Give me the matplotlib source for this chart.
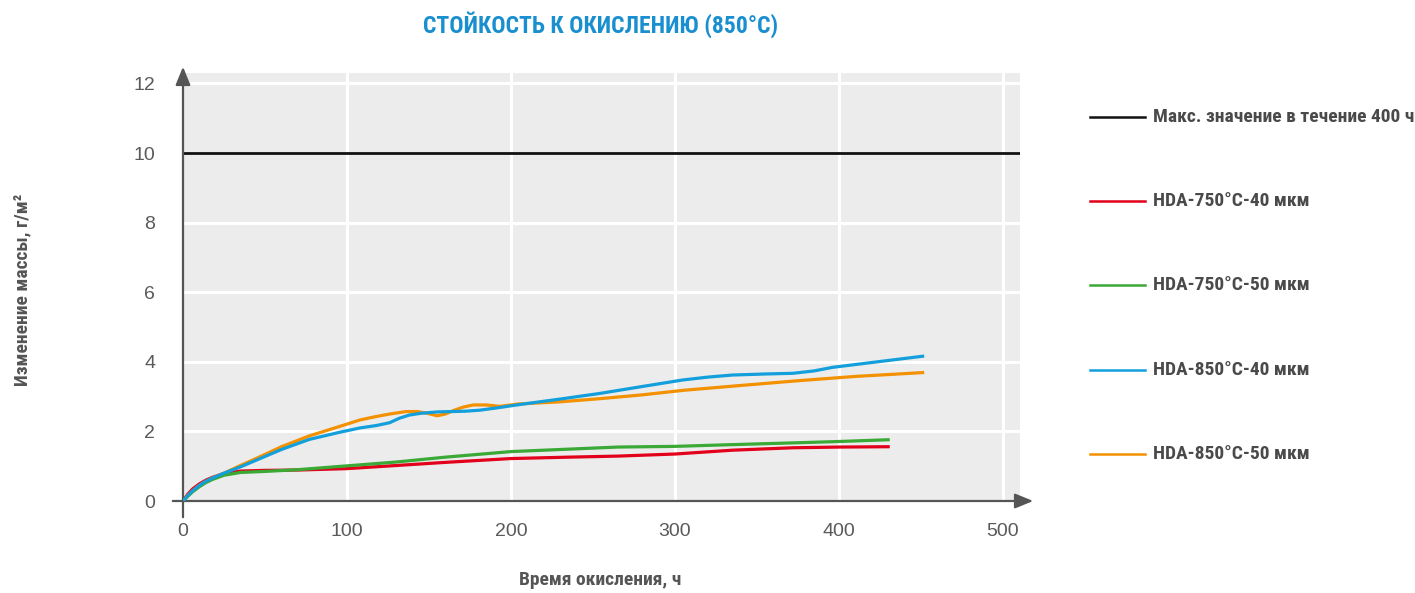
import numpy as np
import matplotlib.pyplot as plt
from matplotlib import font_manager as fm

# values
x_red = [0, 3, 6, 10, 14, 18, 25, 35, 50, 70, 100, 130, 160, 200, 235, 265, 300, 335, 372, 400, 430]
y_red = [0, 0.2, 0.35, 0.49, 0.6, 0.68, 0.79, 0.86, 0.88, 0.89, 0.93, 1.02, 1.11, 1.22, 1.26, 1.29, 1.35, 1.46, 1.53, 1.55, 1.56]

x_green = [0, 3, 6, 10, 14, 18, 25, 35, 50, 70, 100, 130, 160, 200, 235, 265, 300, 335, 372, 400, 430]
y_green = [0, 0.14, 0.27, 0.41, 0.53, 0.62, 0.74, 0.82, 0.85, 0.9, 1.01, 1.12, 1.26, 1.42, 1.49, 1.55, 1.57, 1.62, 1.67, 1.71, 1.76]

x_blue = [0, 3, 6, 10, 14, 18, 25, 35, 45, 60, 77, 96, 108, 118, 126, 132, 138, 145, 155, 163, 172, 181, 192, 205,
          230, 254, 280, 305, 320, 335, 355, 372, 385, 396, 420, 451]
y_blue = [0, 0.16, 0.3, 0.45, 0.57, 0.66, 0.8, 0.98, 1.18, 1.48, 1.77, 1.98, 2.1, 2.17, 2.25, 2.38, 2.47, 2.52, 2.56, 2.57, 2.58, 2.61, 2.68, 2.77,
          2.93, 3.09, 3.29, 3.48, 3.56, 3.62, 3.65, 3.67, 3.74, 3.84, 3.98, 4.16]

x_orange = [0, 3, 6, 10, 14, 18, 25, 35, 45, 60, 77, 96, 108, 118, 126, 136, 143, 149, 155, 160, 165, 171, 177, 185, 193, 205,
            230, 254, 280, 305, 340, 376, 410, 451]
y_orange = [0, 0.16, 0.3, 0.45, 0.57, 0.66, 0.8, 1.02, 1.23, 1.56, 1.87, 2.15, 2.33, 2.43, 2.5, 2.57, 2.57, 2.52, 2.45, 2.5, 2.6, 2.7, 2.76, 2.76, 2.72, 2.79,
            2.85, 2.94, 3.05, 3.18, 3.32, 3.46, 3.58, 3.69]

limit = 10
labels = ["Макс. значение в течение 400 ч", "HDA-750°C-40 мкм", "HDA-750°C-50 мкм",
          "HDA-850°C-40 мкм", "HDA-850°C-50 мкм"]
colors = ["#111111", "#e3001b", "#3aa935", "#129fdc", "#f39100"]

x_ticks = [0, 100, 200, 300, 400, 500]
y_ticks = [0, 2, 4, 6, 8, 10, 12]

# look for a narrow bold face, the reference uses a condensed font
narrow_file = None
for want in ["Liberation Sans Narrow", "Roboto Condensed", "Open Sans Condensed", "DejaVu Sans"]:
    for f in fm.fontManager.ttflist:
        if f.name == want and f.weight in (700, "bold") and f.style == "normal" and \
                (want != "DejaVu Sans" or "Condensed" in f.fname):
            narrow_file = f.fname
            break
    if narrow_file:
        break
if narrow_file:
    def nprop(size):
        return fm.FontProperties(fname=narrow_file, size=size)
else:
    def nprop(size):
        return fm.FontProperties(family="DejaVu Sans", weight="bold", stretch="condensed", size=size)

plain = ["Liberation Sans", "DejaVu Sans"]
grey = "#555555"

fig = plt.figure(figsize=(14.15, 5.93), dpi=100)
ax = fig.add_axes([183 / 1415, 1 - 501 / 593, (1020 - 183) / 1415, (501 - 73) / 593])
ax.set_facecolor("#ebeceb")
ax.set_xlim(0, 510.4)
ax.set_ylim(0, 12.3)

for xv in x_ticks[1:]:
    ax.axvline(xv, color="white", lw=2.2, zorder=1)
for yv in y_ticks[1:]:
    ax.axhline(yv, color="white", lw=2.2, zorder=1)

ax.axhline(limit, color=colors[0], lw=2.0, zorder=3)
ax.plot(x_red, y_red, color=colors[1], lw=2.3, zorder=4)
ax.plot(x_green, y_green, color=colors[2], lw=2.3, zorder=5)
ax.plot(x_orange, y_orange, color=colors[4], lw=2.3, zorder=4)
ax.plot(x_blue, y_blue, color=colors[3], lw=2.3, zorder=5)

for s in ax.spines.values():
    s.set_visible(False)
ax.set_xticks(x_ticks)
ax.set_yticks(y_ticks)
ax.tick_params(length=0, labelsize=14, labelcolor="#5a5a5a")
ax.tick_params(axis="y", pad=20)
ax.tick_params(axis="x", pad=16)
for lab in ax.get_xticklabels() + ax.get_yticklabels():
    lab.set_family(plain)

# axes with arrow heads
arrow = dict(arrowstyle="-|>,head_length=1.1,head_width=0.45", color=grey, lw=1.6)
ax.annotate("", xy=(1036, 593 - 501), xytext=(170, 593 - 501), xycoords="figure pixels",
            textcoords="figure pixels", arrowprops=arrow)
ax.annotate("", xy=(183, 593 - 64), xytext=(183, 593 - 520), xycoords="figure pixels",
            textcoords="figure pixels", arrowprops=arrow)

fig.text(601 / 1415, 1 - 25 / 593, "СТОЙКОСТЬ К ОКИСЛЕНИЮ (850°C)", color="#1a8fd0",
         fontproperties=nprop(17), ha="center", va="center")
fig.text(600 / 1415, 1 - 580 / 593, "Время окисления, ч", color=grey,
         fontproperties=nprop(14), ha="center", va="center")
fig.text(22 / 1415, 1 - 290 / 593, "Изменение массы, г/м²", color=grey, rotation=90,
         fontproperties=nprop(14), ha="center", va="center")

# legend
rows = [117, 201, 285, 370, 454]
for lab, col, yp in zip(labels, colors, rows):
    yf = 1 - yp / 593
    fig.add_artist(plt.Line2D([1090 / 1415, 1145 / 1415], [yf, yf], color=col, lw=1.8))
    fig.text(1153 / 1415, yf, lab, color="#4a4a4a", fontproperties=nprop(14),
             ha="left", va="center")

fig.savefig("out.png", dpi=100)
